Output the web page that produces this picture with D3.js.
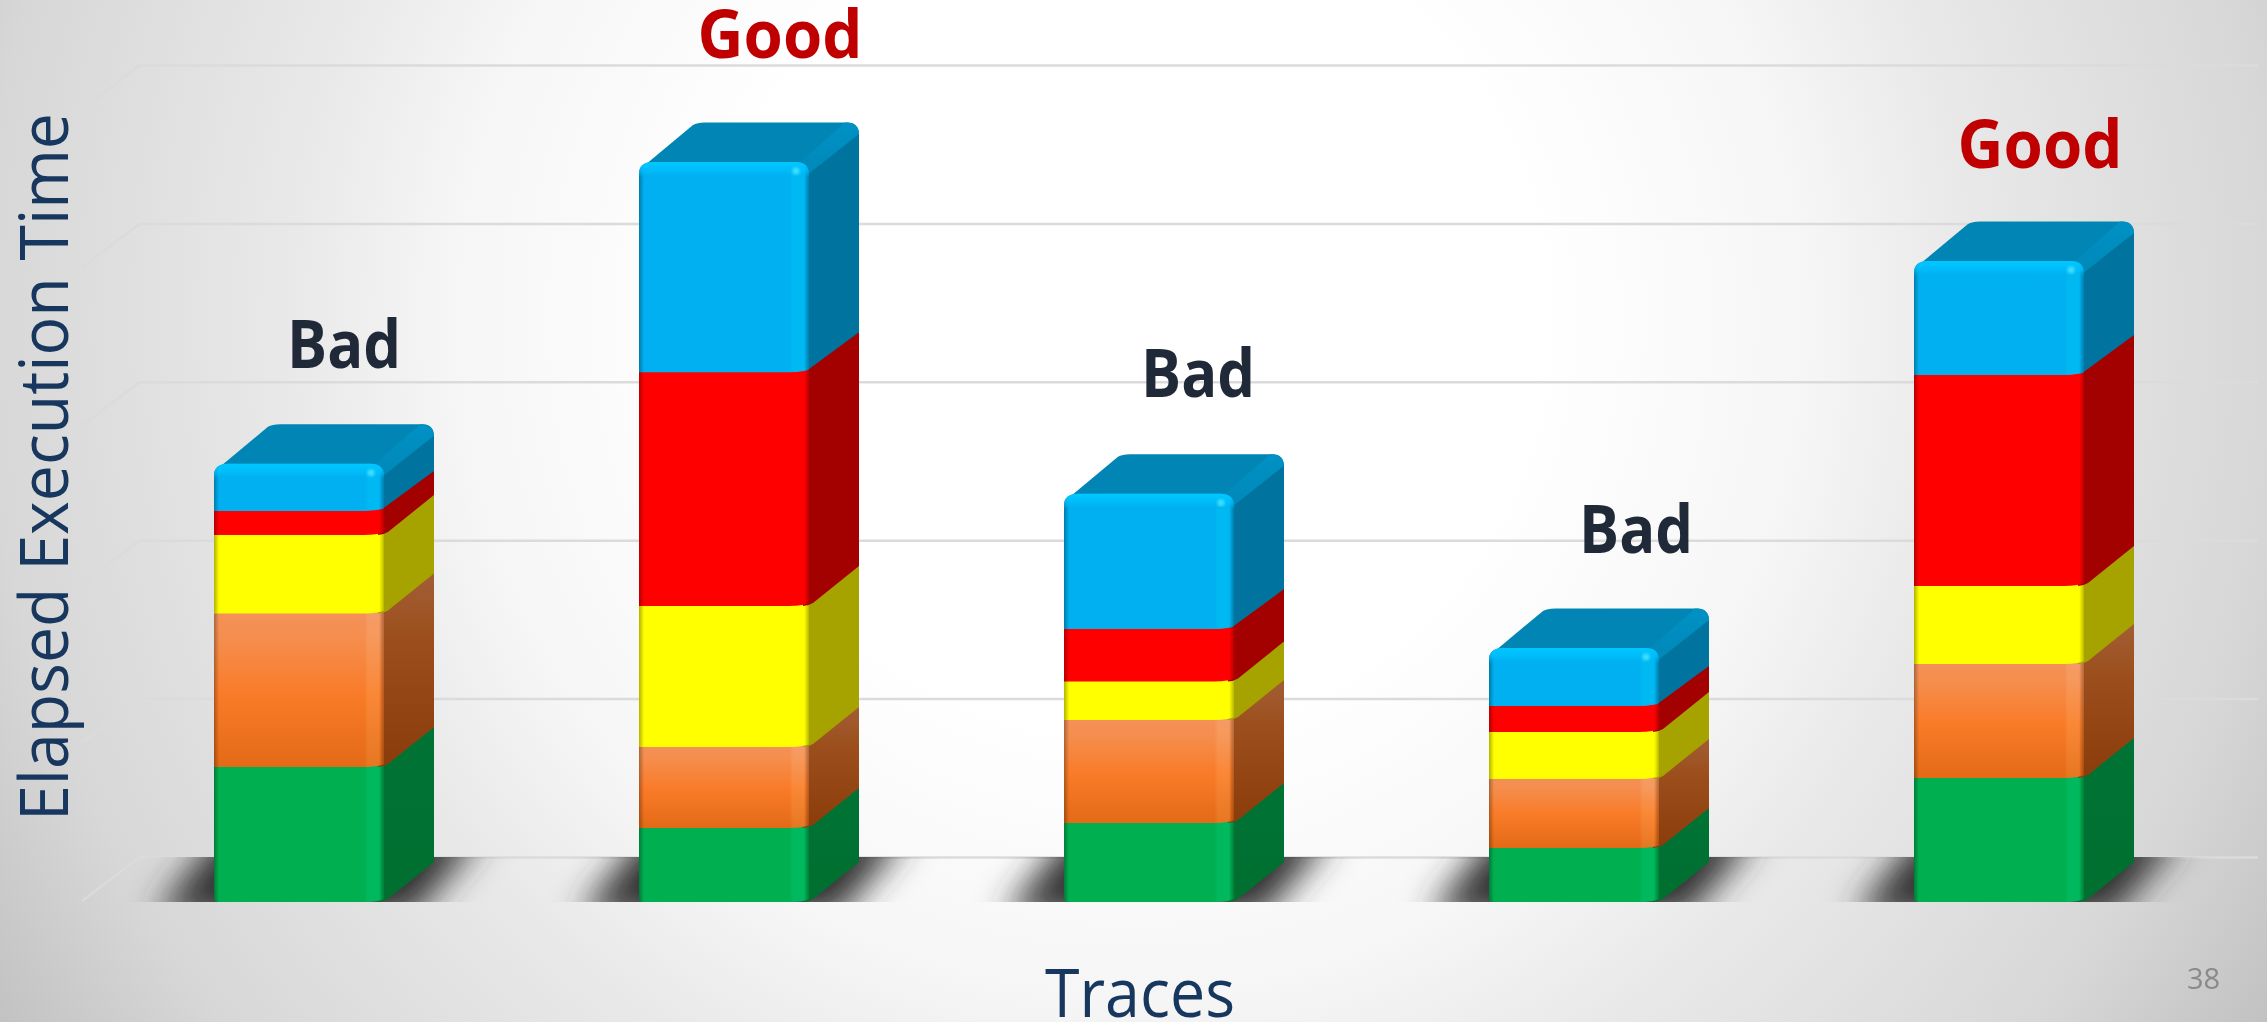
<!DOCTYPE html>
<html>
<head>
<meta charset="utf-8">
<script src="https://cdn.jsdelivr.net/npm/d3@7/dist/d3.min.js"></script>
<style>
html,body{margin:0;padding:0;background:#fff;overflow:hidden}
svg{display:block}
text{font-family:"Open Sans",sans-serif}
</style>
</head>
<body>
<svg id="chart" width="2267" height="1022"></svg>
<script>
// ---- data (in gridline units) ----
const traces = ["Trace 1","Trace 2","Trace 3","Trace 4","Trace 5"];
const seriesNames = ["green","orange","yellow","red","blue"];
const green  = [0.852,0.467,0.499,0.341,0.783];
const orange = [0.969,0.511,0.650,0.436,0.720];
const yellow = [0.496,0.890,0.243,0.297,0.492];
const red    = [0.152,1.477,0.331,0.164,1.332];
const blue   = [0.297,1.326,0.855,0.366,0.720];
const verdicts = ["Bad","Good","Bad","Bad","Good"];
const yTicks = [0,1,2,3,4,5];
const xTitle = "Traces";
const yTitle = "Elapsed Execution Time";
const pageNumber = "38";

// ---- styles / layout ----
const W=2267,H=1022;
const frontFill={green:"#00B050",orange:"url(#orangeFront)",yellow:"#FFFF00",red:"#FF0000",blue:"#00B0F0"};
const sideFill={green:"url(#greenSide)",orange:"url(#orangeSide)",yellow:"#A6A300",red:"#A30000",blue:"#00739E"};
const verdictColor={Bad:"#1F2937",Good:"#C00000"};
const depthX=50,depthY=40;
const labelDx=[45,56,49,62,41],labelDy=[96,104,97,95,93];

const rows=traces.map((t,i)=>({trace:t,green:green[i],orange:orange[i],yellow:yellow[i],red:red[i],blue:blue[i]}));
const stacked=d3.stack().keys(seriesNames)(rows);

const x=d3.scaleBand().domain(traces).range([214,1914+170]).paddingInner(255/425).paddingOuter(0);
const y=d3.scaleLinear().domain([0,5]).range([902,110]);

const svg=d3.select("#chart");
const defs=svg.append("defs");

function grad(id,stops,attrs){
  const g=defs.append("linearGradient").attr("id",id);
  Object.entries(attrs||{x1:0,y1:0,x2:0,y2:1}).forEach(([k,v])=>g.attr(k,v));
  stops.forEach(s=>g.append("stop").attr("offset",s[0]).attr("stop-color",s[1]).attr("stop-opacity",s[2]===undefined?1:s[2]));
}
const bg=defs.append("radialGradient").attr("id","bg").attr("gradientUnits","userSpaceOnUse")
  .attr("cx",1130).attr("cy",320).attr("r",1350);
[[0,"#ffffff"],[0.3,"#ffffff"],[0.5,"#f6f6f6"],[0.62,"#e9e9e9"],[0.85,"#d7d7d7"],[1,"#c0c0c0"]]
  .forEach(s=>bg.append("stop").attr("offset",s[0]).attr("stop-color",s[1]));
grad("orangeFront",[[0,"#F4925B"],[0.18,"#F58E4E"],[0.55,"#F97B28"],[1,"#E36A17"]]);
grad("orangeSide",[[0,"#A35F38"],[0.35,"#9C4F1C"],[1,"#8A3D0B"]]);
grad("greenSide",[[0,"#007335"],[1,"#006F30"]]);
grad("edgeDark",[[0,"#000",0.3],[0.03,"#000",0],[0.972,"#000",0],[1,"#000",0.28]],{x1:0,y1:0,x2:1,y2:0});
grad("strip",[[0,"#fff",0],[0.885,"#fff",0],[0.905,"#fff",0.22],[0.97,"#fff",0.22],[0.985,"#fff",0]],{x1:0,y1:0,x2:1,y2:0});
grad("topGlow",[[0,"#00C8FF",1],[0.55,"#00C0FF",0.7],[1,"#00B0F0",0]]);
grad("bevel",[[0,"#0091C4"],[1,"#0088B8"]]);
defs.append("filter").attr("id","blur").attr("x","-20%").attr("y","-60%").attr("width","140%").attr("height","220%")
  .append("feGaussianBlur").attr("stdDeviation",17);
defs.append("filter").attr("id","blurSpot").append("feGaussianBlur").attr("stdDeviation",1.6);
defs.append("clipPath").attr("id","floorClip").append("rect")
  .attr("x",0).attr("y",y(0)-depthY-5).attr("width",W).attr("height",depthY+5);

// background
svg.append("rect").attr("width",W).attr("height",H).attr("fill","url(#bg)");

// gridlines through a d3 axis on the back wall
const wallX=140,wallY=-45,floorRight=2258,lineColor="#dbdbdb";
const axis=d3.axisLeft(y).tickValues(yTicks).tickSize(-(floorRight-wallX)).tickFormat("");
const gAxis=svg.append("g").attr("transform",`translate(${wallX},${wallY})`).call(axis);
gAxis.select(".domain").remove();
gAxis.selectAll("line").attr("stroke",lineColor).attr("stroke-width",2.5);
svg.append("g").selectAll("line").data(yTicks).join("line")
  .attr("x1",wallX).attr("y1",d=>y(d)+wallY).attr("x2",wallX-58).attr("y2",d=>y(d)+wallY+44)
  .attr("stroke",lineColor).attr("stroke-width",2.5);

// floor shadows
const shadowG=svg.append("g").attr("clip-path","url(#floorClip)");
shadowG.selectAll("path").data(traces).join("path")
  .attr("d",t=>{const a=x(t),b=y(0);return `M ${a+6} ${b-70} L ${a+270} ${b-70} L ${a+198} ${b+16} L ${a-60} ${b+16} Z`;})
  .attr("fill","#333").attr("filter","url(#blur)");

// bars
const n=seriesNames.length;
const barG=svg.append("g");
const groups=barG.selectAll("g").data(traces).join("g");
groups.each(function(t,ti){
  const g=d3.select(this), x0=x(t), w=x.bandwidth(), fr=x0+w;
  stacked.forEach((s,si)=>{
    const key=s.key, top=y(s[ti][1]), bot=y(s[ti][0]);
    const isBottom=si===0, isTop=si===n-1;
    const ext=isTop?0:5; // lower pieces slide under the piece above
    const t0=top-ext;
    // side face
    let side;
    if(isTop){
      side=`M ${fr-3} ${bot-1} L ${fr+depthX} ${bot-depthY} L ${fr+depthX} ${top-depthY+12} L ${fr-3} ${top+14} Z`;
    }else{
      side=`M ${fr-6} ${bot} Q ${fr-1} ${bot} ${fr+4} ${bot-3} L ${fr+depthX} ${bot-depthY} L ${fr+depthX} ${t0-depthY} L ${fr-6} ${t0} Z`;
    }
    if(isTop){
      g.append("path").attr("fill","#0085B5")
       .attr("d",`M ${x0+6} ${top+3} L ${x0+54} ${top-37} Q ${x0+58} ${top-39.5} ${x0+66} ${top-39.5} L ${fr+38} ${top-39.5} Q ${fr+50} ${top-39.5} ${fr+50} ${top-27} L ${fr+50} ${top-15} L ${fr} ${top+25} Z`);
      g.append("path").attr("fill","url(#bevel)")
       .attr("d",`M ${fr-10} ${top+1} L ${fr+36} ${top-39.5} L ${fr+38} ${top-39.5} Q ${fr+50} ${top-39.5} ${fr+50} ${top-27} L ${fr+50} ${top-25} L ${fr} ${top+14} Z`);
    }
    g.append("path").attr("d",side).attr("fill",sideFill[key]);
    // front face
    const r=12;
    const bl=isBottom?`L ${x0+5} ${bot} Q ${x0} ${bot} ${x0} ${bot-3}`:`L ${x0} ${bot}`;
    const topPart=isTop
      ?`M ${x0} ${top+r} Q ${x0} ${top} ${x0+r+2} ${top} L ${fr-r-2} ${top} Q ${fr} ${top} ${fr} ${top+r}`
      :`M ${x0} ${t0} L ${fr} ${t0}`;
    const front=`${topPart} L ${fr} ${bot-3} Q ${fr-4} ${bot-0.5} ${fr-20} ${bot} ${bl} Z`;
    g.append("path").attr("d",front).attr("fill",frontFill[key]);
    g.append("path").attr("d",front).attr("fill","url(#strip)").style("mix-blend-mode","soft-light");
    g.append("path").attr("d",front).attr("fill","url(#edgeDark)");
    if(isTop){
      const glow=`M ${x0} ${top+r} Q ${x0} ${top} ${x0+r+2} ${top} L ${fr-r-2} ${top} Q ${fr} ${top} ${fr} ${top+r} L ${fr} ${top+16} L ${x0} ${top+16} Z`;
      g.append("path").attr("d",glow).attr("fill","url(#topGlow)");
      g.append("circle").attr("cx",fr-13).attr("cy",top+9).attr("r",3.5).attr("fill","#3FE0FF").attr("filter","url(#blurSpot)");
    }
  });
});

// verdict labels
const verdictWidth={Bad:114,Good:165};
svg.append("g").selectAll("text").data(traces).join("text")
  .attr("x",(t,i)=>x(t)+x.bandwidth()/2+labelDx[i])
  .attr("y",(t,i)=>y(d3.sum(seriesNames,k=>rows[i][k]))-labelDy[i])
  .attr("text-anchor","middle")
  .attr("font-weight",700).attr("font-size",66)
  .attr("textLength",(t,i)=>verdictWidth[verdicts[i]])
  .attr("lengthAdjust","spacingAndGlyphs")
  .attr("fill",(t,i)=>verdictColor[verdicts[i]])
  .text((t,i)=>verdicts[i]);

// axis titles
svg.append("text").attr("transform","translate(68,821) rotate(-90)")
  .attr("font-size",67).attr("fill","#17375E")
  .attr("textLength",708).attr("lengthAdjust","spacingAndGlyphs").text(yTitle);
svg.append("text").attr("x",1045).attr("y",1017)
  .attr("font-size",67).attr("fill","#17375E")
  .attr("textLength",190).attr("lengthAdjust","spacingAndGlyphs").text(xTitle);
svg.append("text").attr("x",2187).attr("y",989)
  .attr("font-size",29).attr("fill","#8a8a8a").text(pageNumber);
</script>
</body>
</html>
